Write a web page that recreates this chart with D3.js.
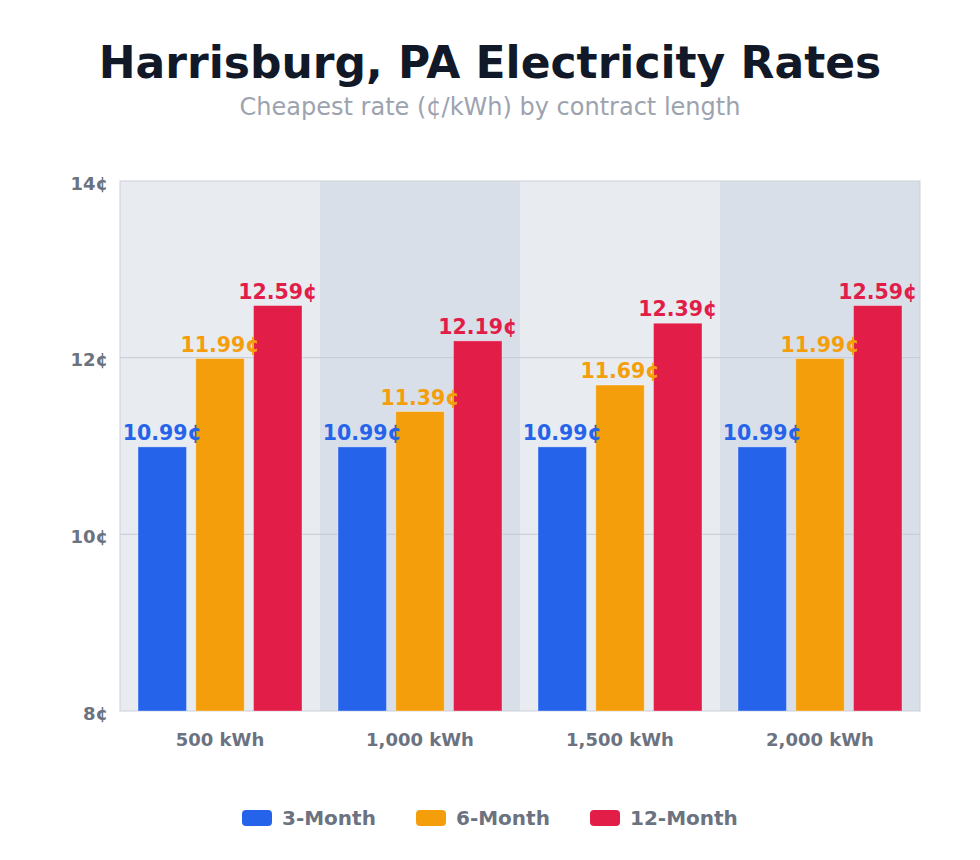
<!DOCTYPE html>
<html>
<head>
<meta charset="utf-8">
<script src="https://cdn.jsdelivr.net/npm/d3@7"></script>
<style>
  body { margin: 0; background: #fff; }
  text { font-family: "DejaVu Sans", sans-serif; }
</style>
</head>
<body>
<div id="chart"></div>
<script>
// data
let categories = ["500 kWh", "1,000 kWh", "1,500 kWh", "2,000 kWh"];
let seriesNames = ["3-Month", "6-Month", "12-Month"];
let threeMonth = [10.99, 10.99, 10.99, 10.99];
let sixMonth = [11.99, 11.39, 11.69, 11.99];
let twelveMonth = [12.59, 12.19, 12.39, 12.59];
let yTicks = [8, 10, 12, 14];

let seriesColors = ["#2563eb", "#f59e0b", "#e11d48"];
let bandColors = ["#e8ebf0", "#d9dfe8"];

// svg size
let svgWidth = 980;
let svgHeight = 860;

let margin = { top: 181, right: 60, bottom: 149, left: 120 };
let width = svgWidth - margin.left - margin.right;
let height = svgHeight - margin.top - margin.bottom;

let svg = d3.select("#chart")
  .append("svg")
  .attr("width", svgWidth)
  .attr("height", svgHeight);

// title + subtitle
svg.append("text")
  .attr("x", svgWidth / 2)
  .attr("y", 78)
  .attr("text-anchor", "middle")
  .attr("font-size", 44)
  .attr("font-weight", "bold")
  .attr("fill", "#111827")
  .text("Harrisburg, PA Electricity Rates");

svg.append("text")
  .attr("x", svgWidth / 2)
  .attr("y", 115)
  .attr("text-anchor", "middle")
  .attr("font-size", 24)
  .attr("fill", "#9ca3af")
  .text("Cheapest rate (¢/kWh) by contract length");

let g = svg.append("g")
  .attr("transform", `translate(${margin.left}, ${margin.top})`);

// build rows
let rows = categories.map((c, i) => ({
  cat: c,
  values: [threeMonth[i], sixMonth[i], twelveMonth[i]]
}));

// scales
let x0 = d3.scaleBand()
  .domain(categories)
  .range([0, width])
  .padding(0);

let x1 = d3.scaleBand()
  .domain(seriesNames)
  .range([18, x0.bandwidth() - 18])
  .paddingInner(0.16);

let y = d3.scaleLinear()
  .domain([8, 14])
  .range([height, 0]);

// alternating band backgrounds
g.selectAll("rect.band")
  .data(categories)
  .enter()
  .append("rect")
  .attr("x", d => x0(d))
  .attr("y", 0)
  .attr("width", x0.bandwidth())
  .attr("height", height)
  .attr("fill", (d, i) => bandColors[i % 2]);

// gridlines
g.selectAll("line.grid")
  .data(yTicks.slice(1, -1))
  .enter()
  .append("line")
  .attr("x1", 0)
  .attr("x2", width)
  .attr("y1", d => y(d))
  .attr("y2", d => y(d))
  .attr("stroke", "#c5cad3")
  .attr("stroke-width", 1);

// plot border
g.append("rect")
  .attr("width", width)
  .attr("height", height)
  .attr("fill", "none")
  .attr("stroke", "#cbd0d8")
  .attr("stroke-width", 1);

// y axis
let leftAxis = d3.axisLeft(y).tickValues(yTicks).tickSize(0).tickPadding(12).tickFormat(d => d + "¢");
let yAxis = g.append("g").call(leftAxis);
yAxis.select(".domain").remove();
yAxis.selectAll("text")
  .attr("font-size", 18)
  .attr("font-weight", "bold")
  .attr("fill", "#6b7280")
  .attr("dy", "0.45em")
  .attr("font-family", "DejaVu Sans, sans-serif");

// x axis
let bottomAxis = d3.axisBottom(x0).tickSize(0).tickPadding(22);
let xAxis = g.append("g")
  .attr("transform", `translate(0, ${height})`)
  .call(bottomAxis);
xAxis.select(".domain").remove();
xAxis.selectAll("text")
  .attr("font-size", 18)
  .attr("font-weight", "bold")
  .attr("fill", "#6b7280")
  .attr("font-family", "DejaVu Sans, sans-serif");

// bars
let groups = g.selectAll("g.grp")
  .data(rows)
  .enter()
  .append("g")
  .attr("transform", d => `translate(${x0(d.cat)}, 0)`);

groups.selectAll("rect")
  .data(d => d.values.map((v, i) => ({ name: seriesNames[i], value: v, idx: i })))
  .enter()
  .append("rect")
  .attr("x", d => x1(d.name))
  .attr("y", d => y(d.value))
  .attr("width", x1.bandwidth())
  .attr("height", d => height - y(d.value))
  .attr("fill", d => seriesColors[d.idx])
  .attr("stroke", "rgba(255,255,255,0.35)")
  .attr("stroke-width", 1);

// value labels
groups.selectAll("text.val")
  .data(d => d.values.map((v, i) => ({ name: seriesNames[i], value: v, idx: i })))
  .enter()
  .append("text")
  .attr("x", d => x1(d.name) + x1.bandwidth() / 2)
  .attr("y", d => y(d.value) - 7)
  .attr("text-anchor", "middle")
  .attr("font-size", 20.5)
  .attr("font-weight", "bold")
  .attr("fill", d => seriesColors[d.idx])
  .text(d => d.value.toFixed(2) + "¢");

// legend
let legendX = [242, 416, 590];
let legend = svg.selectAll("g.legend")
  .data(seriesNames)
  .enter()
  .append("g")
  .attr("transform", (d, i) => `translate(${legendX[i]}, 810)`);

legend.append("rect")
  .attr("width", 30)
  .attr("height", 16)
  .attr("rx", 4)
  .attr("fill", (d, i) => seriesColors[i]);

legend.append("text")
  .attr("x", 40)
  .attr("y", 15)
  .attr("font-size", 20)
  .attr("font-weight", "bold")
  .attr("fill", "#6b7280")
  .text(d => d);
</script>
</body>
</html>
